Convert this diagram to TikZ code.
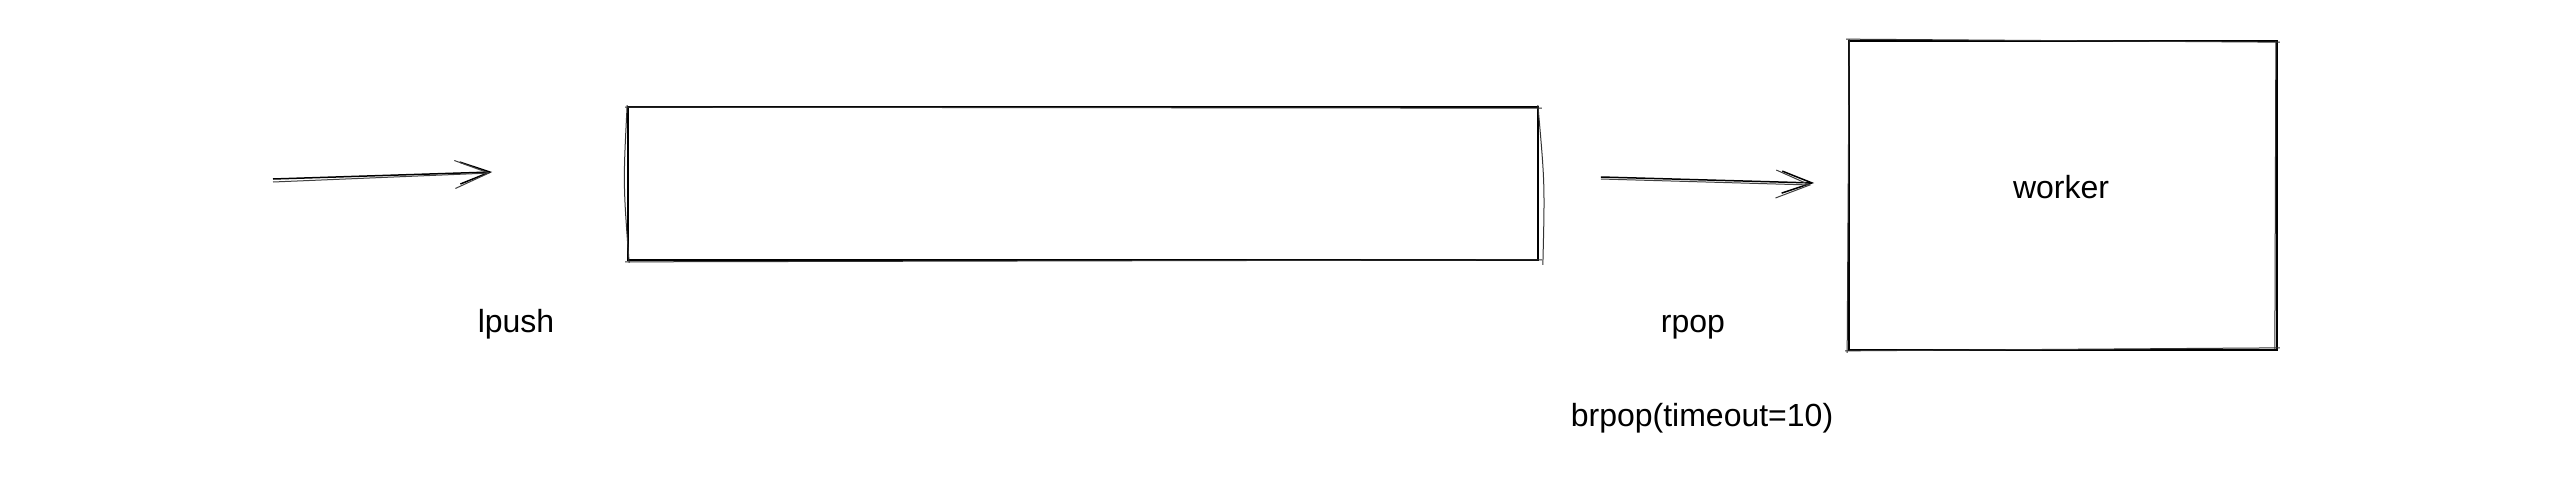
\documentclass[tikz,border=0pt]{standalone}
\usepackage{fontspec}
\setmainfont{Liberation Sans}
\usetikzlibrary{arrows.meta}
\begin{document}
\begin{tikzpicture}[x=1pt,y=-1pt,
  every node/.style={font=\fontsize{32}{38}\selectfont, text=black},
  box/.style={draw=black, line width=1.7pt, inner sep=0pt},
  sk/.style={line width=1pt, draw=black!80},
  arr/.style={line width=1.5pt, draw=black, -{Straight Barb[length=30pt,width=22pt,line width=1.5pt]}},
  arrsk/.style={line width=1pt, draw=black!75, -{Straight Barb[length=34pt,width=28pt,line width=1pt]}},
]
\useasboundingbox[fill=white] (0,0) rectangle (2552,480);

% queue box
\node[box, minimum width=910pt, minimum height=153pt] (queue) at (1083,183.5) {};
\draw[sk] ([xshift=-2pt,yshift=-1pt]queue.north west) -- ([xshift=3pt,yshift=-2pt]queue.north east);
\draw[sk] ([xshift=-2pt,yshift=-1pt]queue.south west) -- ([xshift=3pt,yshift=1pt]queue.south east);
\draw[sk] ([xshift=0pt,yshift=1pt]queue.north west) .. controls ([xshift=-4pt]queue.west) .. ([xshift=2pt,yshift=-2pt]queue.south west);
\draw[sk] ([xshift=-1pt,yshift=1pt]queue.north east) .. controls ([xshift=6pt]queue.east) .. ([xshift=4pt,yshift=-4pt]queue.south east);

% worker box
\node[box, minimum width=428pt, minimum height=309pt] (worker) at (2063,195.5) {};
\node (workertext) at ([xshift=-2pt,yshift=8pt]worker.center) {worker};
\draw[sk] ([xshift=-2pt,yshift=1pt]worker.north west) -- ([xshift=2pt,yshift=-2pt]worker.north east);
\draw[sk] ([xshift=-3pt,yshift=0pt]worker.south west) -- ([xshift=2pt,yshift=3pt]worker.south east);
\draw[sk] ([xshift=1pt,yshift=1pt]worker.north west) -- ([xshift=-1pt,yshift=-2pt]worker.south west);
\draw[sk] ([xshift=-2pt,yshift=-1pt]worker.north east) -- ([xshift=-3pt,yshift=2pt]worker.south east);

% labels
\node (lpush) at (516,324) {lpush};
\node (rpop) at (1693,327) {rpop};
\node (brpop) at (1702,418) {brpop(timeout=10)};

% push arrow
\coordinate (pushstart) at (273,179);
\coordinate (pushend) at ([xshift=-135pt,yshift=11.5pt]queue.west);
\draw[arr] (pushstart) -- (pushend);
\draw[arrsk] ([yshift=-3pt]pushstart) -- ([xshift=-2pt,yshift=-1pt]pushend);

% pop arrow
\coordinate (popstart) at ([xshift=62pt,yshift=6.5pt]queue.east);
\coordinate (popend) at ([xshift=-34pt,yshift=12.5pt]worker.west);
\draw[arr] (popstart) -- (popend);
\draw[arrsk] ([yshift=-2pt]popstart) -- ([xshift=-3pt,yshift=-2pt]popend);
\end{tikzpicture}
\end{document}
